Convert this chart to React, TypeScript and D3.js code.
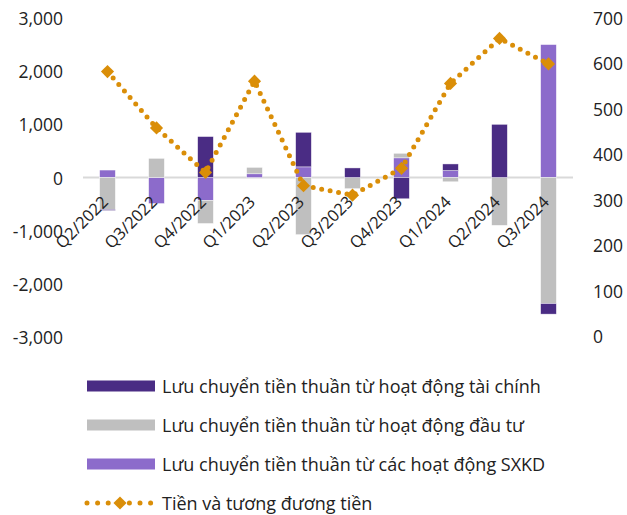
import React from 'react';
import * as d3 from 'd3';

const quarters = ['Q2/2022', 'Q3/2022', 'Q4/2022', 'Q1/2023', 'Q2/2023', 'Q3/2023', 'Q4/2023', 'Q1/2024', 'Q2/2024', 'Q3/2024'];
// Lưu chuyển tiền thuần từ hoạt động tài chính
const financing = [-20, 0, 770, 0, 650, 180, -400, 125, 1000, -200];
// Lưu chuyển tiền thuần từ hoạt động đầu tư
const investing = [-600, 360, -435, 120, -1075, -210, 85, -80, -900, -2370];
// Lưu chuyển tiền thuần từ các hoạt động SXKD
const operating = [140, -490, -430, 70, 200, 0, 370, 130, 0, 2500];
// Tiền và tương đương tiền
const cash = [582, 458, 360, 561, 331, 310, 369, 556, 655, 599];

const leftTicks = [-3000, -2000, -1000, 0, 1000, 2000, 3000];
const rightTicks = [0, 100, 200, 300, 400, 500, 600, 700];

const COLORS = { financing: '#4a2c84', investing: '#bfbfbf', operating: '#8c6bcb', cash: '#da8e08' };
const FONT = '"Open Sans", Lato, sans-serif';

const App = () => {
  const width = 627;
  const height = 515;

  const x = d3.scaleBand().domain(quarters).range([83, 573]).paddingInner(0.68).paddingOuter(0.34);
  const y = d3.scaleLinear().domain([-3000, 3000]).range([337, 18]);
  const y2 = d3.scaleLinear().domain([0, 700]).range([336, 18]);

  // stacking order: SXKD, đầu tư, tài chính (diverging around zero)
  const rows = quarters.map((q, i) => ({ q, operating: operating[i], investing: investing[i], financing: financing[i] }));
  const keys = ['operating', 'investing', 'financing'];
  const series = d3.stack().keys(keys).offset(d3.stackOffsetDiverging)(rows as any);

  const line = d3.line<number>()
    .x((d, i) => x(quarters[i])! + x.bandwidth() / 2)
    .y((d) => y2(d));

  const fmt = (v: number) => d3.format(',')(v).replace('−', '-');
  const diamond = d3.symbol().type(d3.symbolDiamond2).size(110)();

  const legend = [
    { key: 'financing', label: 'Lưu chuyển tiền thuần từ hoạt động tài chính' },
    { key: 'investing', label: 'Lưu chuyển tiền thuần từ hoạt động đầu tư' },
    { key: 'operating', label: 'Lưu chuyển tiền thuần từ các hoạt động SXKD' },
  ];

  return (
    <svg width={width} height={height} style={{ position: 'absolute', left: 0, top: 0, fontFamily: FONT }}>
      <line x1={83} x2={573} y1={y(0)} y2={y(0)} stroke="#d9d9d9" strokeWidth={2} />

      {series.map((s) => (
        <g key={s.key} fill={(COLORS as any)[s.key]}>
          {s.map((d, i) => {
            const h = Math.abs(y(d[0]) - y(d[1]));
            if (h < 0.1) return null;
            return (
              <rect key={i} x={x(quarters[i])} width={x.bandwidth()} y={Math.min(y(d[0]), y(d[1]))} height={h}
                stroke="#ffffff" strokeWidth={0.6} strokeOpacity={0.7} />
            );
          })}
        </g>
      ))}

      {quarters.map((q) => (
        <text key={q} transform={`translate(${x(q)! + x.bandwidth() / 2 - 3},${y(0) + 21}) rotate(-45)`}
          textAnchor="end" dominantBaseline="central" fontSize={16.5} fill="#222">{q}</text>
      ))}

      <path d={line(cash)!} fill="none" stroke={COLORS.cash} strokeWidth={5} strokeLinecap="round" strokeDasharray="0 8.6" />
      {cash.map((v, i) => (
        <path key={i} d={diamond!} fill={COLORS.cash}
          transform={`translate(${x(quarters[i])! + x.bandwidth() / 2},${y2(v)})`} />
      ))}

      {leftTicks.map((t) => (
        <text key={t} x={63} y={y(t)} textAnchor="end" dominantBaseline="central" fontSize={17.5} fill="#222">{fmt(t)}</text>
      ))}
      {rightTicks.map((t) => (
        <text key={t} x={593} y={y2(t)} textAnchor="start" dominantBaseline="central" fontSize={17.5} fill="#222">{t}</text>
      ))}

      {legend.map((l, i) => (
        <g key={l.key} transform={`translate(0,${386 + i * 39})`}>
          <rect x={87} y={-5.5} width={68} height={11} fill={(COLORS as any)[l.key]} />
          <text x={162} y={0} dominantBaseline="central" fontSize={18} fill="#222">{l.label}</text>
        </g>
      ))}
      <g transform={`translate(0,${386 + 3 * 39})`}>
        <line x1={87} x2={153} y1={0} y2={0} stroke={COLORS.cash} strokeWidth={5} strokeLinecap="round" strokeDasharray="0 10.6" />
        <path d={diamond!} fill={COLORS.cash} transform="translate(120,0)" />
        <text x={162} y={0} dominantBaseline="central" fontSize={18} fill="#222">Tiền và tương đương tiền</text>
      </g>
    </svg>
  );
};

export default App;
